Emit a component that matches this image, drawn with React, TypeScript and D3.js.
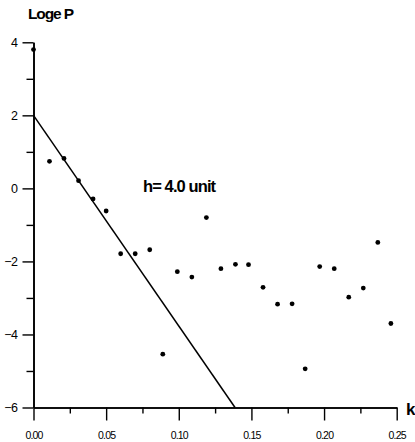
import React, { useEffect, useRef } from 'react';
import * as d3 from 'd3';

// wave number k vs log_e P
const kValues = [0, 0.011, 0.021, 0.031, 0.041, 0.05, 0.06, 0.07, 0.08, 0.089, 0.099, 0.109, 0.119,
  0.129, 0.139, 0.148, 0.158, 0.168, 0.178, 0.187, 0.197, 0.207, 0.217, 0.227, 0.237, 0.246];
const logP = [3.8, 0.74, 0.82, 0.21, -0.29, -0.62, -1.79, -1.79, -1.68, -4.54, -2.28, -2.43, -0.8,
  -2.2, -2.08, -2.09, -2.71, -3.17, -3.16, -4.94, -2.14, -2.2, -2.98, -2.73, -1.48, -3.7];

// fitted line end points
const fitK = [0, 0.1387];
const fitY = [2, -6];

const yMajor = [-6, -4, -2, 0, 2, 4];
const yMinor = [-5, -3, -1, 1, 3];
const xMajor = [0, 0.05, 0.1, 0.15, 0.2, 0.25];
const xMinor = [0.025, 0.075, 0.125, 0.175, 0.225];

const W = 415;
const H = 442;
const labelFont = '"Liberation Sans", Arial, sans-serif';

function App() {
  const svgRef = useRef<SVGSVGElement>(null);

  useEffect(() => {
    const svg = d3.select(svgRef.current);
    svg.selectAll('*').remove();

    const x = d3.scaleLinear().domain([0, 0.25]).range([33.5, 396.7]);
    const y = d3.scaleLinear().domain([-6, 4]).range([407.5, 42.3]);

    const styleAxis = (g: any) => {
      g.selectAll('path, line').attr('stroke', '#000').attr('stroke-width', 1.4);
      g.selectAll('text')
        .attr('fill', '#000')
        .style('font-family', labelFont)
        .style('font-size', '12.5px')
        .style('letter-spacing', '-0.5px');
    };

    // y axis
    svg.append('g')
      .attr('transform', `translate(${x(0)},0)`)
      .call(d3.axisLeft(y).tickValues(yMinor).tickSize(7).tickSizeOuter(0).tickFormat(() => ''))
      .call(styleAxis);
    svg.append('g')
      .attr('transform', `translate(${x(0)},0)`)
      .call(d3.axisLeft(y).tickValues(yMajor).tickSize(11).tickSizeOuter(0).tickPadding(5)
        .tickFormat(d3.format('d')))
      .call(styleAxis);

    // x axis
    svg.append('g')
      .attr('transform', `translate(0,${y(-6)})`)
      .call(d3.axisBottom(x).tickValues(xMinor).tickSize(6).tickSizeOuter(0).tickFormat(() => ''))
      .call(styleAxis);
    svg.append('g')
      .attr('transform', `translate(0,${y(-6)})`)
      .call(d3.axisBottom(x).tickValues(xMajor).tickSize(13).tickSizeOuter(0).tickPadding(11)
        .tickFormat(d3.format('.2f')))
      .call(styleAxis)
      .call((g: any) => g.selectAll('text').style('font-size', '10.5px').style('letter-spacing', '-0.8px'));

    svg.selectAll('.domain').attr('stroke-width', 1.6);

    // fitted line
    const fit = d3.line<number>()
      .x((d, i) => x(fitK[i]))
      .y((d) => y(d));
    svg.append('path')
      .datum(fitY)
      .attr('d', fit)
      .attr('fill', 'none')
      .attr('stroke', '#000')
      .attr('stroke-width', 1.5);

    // points
    svg.append('g')
      .selectAll('circle')
      .data(logP)
      .join('circle')
      .attr('cx', (d, i) => x(kValues[i]))
      .attr('cy', (d) => y(d))
      .attr('r', 2.4)
      .attr('fill', '#000');

    // labels
    svg.append('text')
      .attr('x', 28)
      .attr('y', 19)
      .attr('font-family', labelFont)
      .attr('font-weight', 'bold')
      .attr('font-size', 15.5)
      .attr('letter-spacing', '-1.1px')
      .text('Loge P');

    svg.append('text')
      .attr('x', 143)
      .attr('y', 192)
      .attr('font-family', labelFont)
      .attr('font-weight', 'bold')
      .attr('font-size', 16.5)
      .attr('letter-spacing', '-0.9px')
      .text('h= 4.0 unit');

    svg.append('text')
      .attr('x', 406)
      .attr('y', 415)
      .attr('font-family', labelFont)
      .attr('font-weight', 'bold')
      .attr('font-size', 17)
      .text('k');
  }, []);

  return (
    <svg
      ref={svgRef}
      width={W}
      height={H}
      style={{ position: 'absolute', left: 0, top: 0, background: '#fff' }}
    />
  );
}

export default App;
